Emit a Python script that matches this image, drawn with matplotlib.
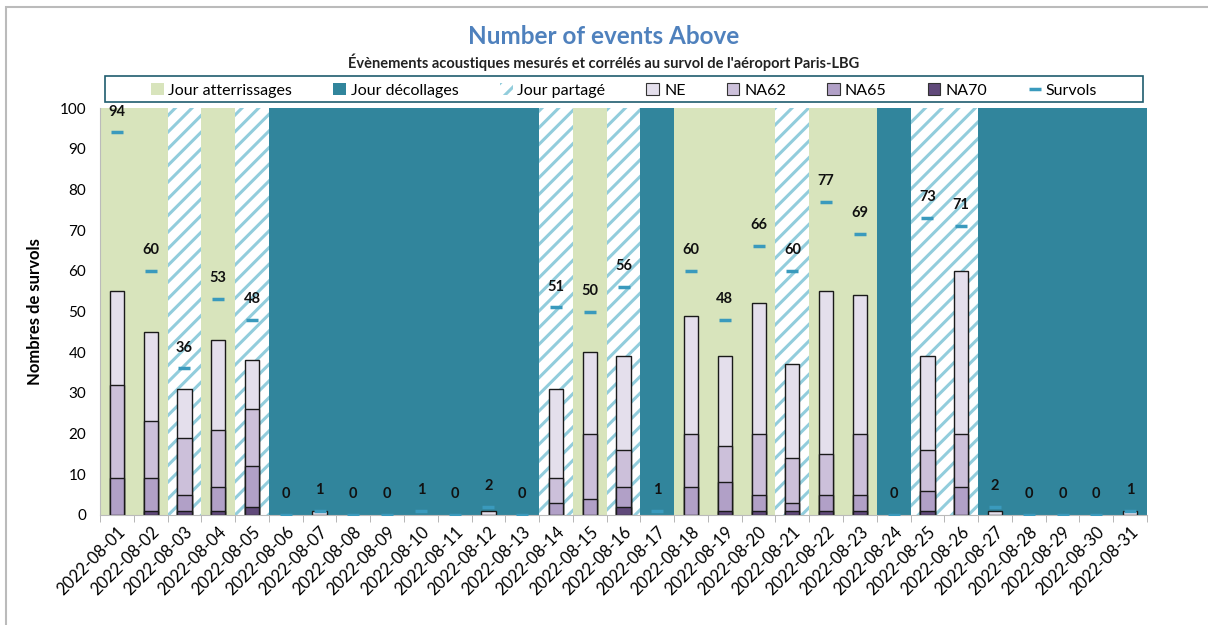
import numpy as np
import matplotlib
matplotlib.use("Agg")
import matplotlib.pyplot as plt
from matplotlib.patches import Patch, Rectangle
from matplotlib.lines import Line2D

plt.rcParams['font.family'] = ['Lato', 'DejaVu Sans']
plt.rcParams['hatch.linewidth'] = 2.2

# Data
dates = ['2022-08-%02d' % d for d in range(1, 32)]
# A = atterrissages, D = decollages, P = partage
day_type = ['A', 'A', 'P', 'A', 'P', 'D', 'D', 'D', 'D', 'D', 'D', 'D', 'D',
            'P', 'A', 'P', 'D', 'A', 'A', 'A', 'P', 'A', 'A', 'D', 'P', 'P',
            'D', 'D', 'D', 'D', 'D']
survols = [94, 60, 36, 53, 48, 0, 1, 0, 0, 1, 0, 2, 0,
           51, 50, 56, 1, 60, 48, 66, 60, 77, 69, 0, 73, 71,
           2, 0, 0, 0, 1]
ne = [55, 45, 31, 43, 38, 0, 1, 0, 0, 0, 0, 1, 0,
      31, 40, 39, 0, 49, 39, 52, 37, 55, 54, 0, 39, 60,
      1, 0, 0, 0, 1]
na62 = [32, 23, 19, 21, 26, 0, 0, 0, 0, 0, 0, 0, 0,
        9, 20, 16, 0, 20, 17, 20, 14, 15, 20, 0, 16, 20,
        0, 0, 0, 0, 0]
na65 = [9, 9, 5, 7, 12, 0, 0, 0, 0, 0, 0, 0, 0,
        3, 4, 7, 0, 7, 8, 5, 3, 5, 5, 0, 6, 7,
        0, 0, 0, 0, 0]
na70 = [0, 1, 1, 1, 2, 0, 0, 0, 0, 0, 0, 0, 0,
        0, 0, 2, 0, 0, 1, 1, 1, 1, 1, 0, 1, 0,
        0, 0, 0, 0, 0]

GREEN = '#D8E4BC'
TEAL = '#31859C'
HATCH = '#92CDDC'
C_NE = '#E4DFEC'
C_62 = '#CCC0DA'
C_65 = '#B1A0C7'
C_70 = '#60497A'
C_SURV = '#3A9ABD'

fig = plt.figure(figsize=(12.08, 6.25), dpi=100)
ax = fig.add_axes([0.0828, 0.176, 0.8667, 0.6512])

x = np.arange(len(dates))

# background day types
for t, kw in [('A', dict(color=GREEN)),
              ('D', dict(color=TEAL)),
              ('P', dict(facecolor='white', edgecolor=HATCH, hatch='//', linewidth=0))]:
    idx = [i for i in x if day_type[i] == t]
    ax.bar(idx, [100] * len(idx), width=1.0, zorder=0, **kw)

# noise events (nested counts drawn on top of each other)
for vals, col in [(ne, C_NE), (na62, C_62), (na65, C_65), (na70, C_70)]:
    idx = [i for i in x if vals[i] > 0]
    ax.bar(idx, [vals[i] for i in idx], width=0.42, color=col,
           edgecolor='#1a1a1a', linewidth=1.0, zorder=2)

# survols markers + labels
ax.plot(x, survols, linestyle='none', marker='_', markersize=9,
        markeredgewidth=2.5, color=C_SURV, zorder=3)
for i, v in enumerate(survols):
    ax.annotate(str(v), (i, v), xytext=(0, 10), textcoords='offset points',
                ha='center', va='bottom', fontsize=10.5, fontweight='bold',
                color='#111111', zorder=4)

ax.set_xlim(-0.5, len(dates) - 0.5)
ax.set_ylim(0, 100)
ax.set_yticks(range(0, 101, 10))
ax.tick_params(axis='y', length=0, labelsize=11, pad=10)
ax.set_xticks(x)
ax.set_xticklabels(dates, rotation=45, ha='right', rotation_mode='anchor', fontsize=12)
ax.tick_params(axis='x', which='major', length=0, pad=6)
ax.set_xticks(np.arange(-0.5, len(dates), 1.0), minor=True)
ax.tick_params(axis='x', which='minor', length=5, color='#aaaaaa', direction='out')
for s in ['top', 'right']:
    ax.spines[s].set_visible(False)
for s in ['left', 'bottom']:
    ax.spines[s].set_color('#bbbbbb')
ax.set_ylabel('Nombres de survols', fontsize=12, fontweight='bold', labelpad=12)

fig.text(0.5, 0.942, 'Number of events Above', ha='center', va='center',
         fontsize=17.5, fontweight='bold', color='#4F81BD')
fig.text(0.5, 0.9, "Évènements acoustiques mesurés et corrélés au survol de l'aéroport Paris-LBG",
         ha='center', va='center', fontsize=10.5, fontweight='bold', color='#222222')

handles = [
    Patch(facecolor=GREEN, edgecolor='none', label='Jour atterrissages'),
    Patch(facecolor=TEAL, edgecolor='none', label='Jour décollages'),
    Patch(facecolor='white', edgecolor=HATCH, hatch='//', linewidth=0, label='Jour partagé'),
    Patch(facecolor=C_NE, edgecolor='#333333', linewidth=0.8, label='NE'),
    Patch(facecolor=C_62, edgecolor='#333333', linewidth=0.8, label='NA62'),
    Patch(facecolor=C_65, edgecolor='#333333', linewidth=0.8, label='NA65'),
    Patch(facecolor=C_70, edgecolor='#333333', linewidth=0.8, label='NA70'),
    Line2D([], [], linestyle='none', marker='_', markersize=9, markeredgewidth=2.5,
           color=C_SURV, label='Survols'),
]
leg = fig.legend(handles=handles, ncol=8, loc='lower left',
                 bbox_to_anchor=(0.1215, 0.837, 0.79, 0.041), mode='expand',
                 fontsize=11.5, frameon=False, handlelength=0.8,
                 handleheight=0.8, handletextpad=0.3, borderaxespad=0, borderpad=0.25)

# legend frame
fig.patches.append(Rectangle((0.087, 0.837), 0.859, 0.041, transform=fig.transFigure,
                             fill=False, edgecolor='#1F5C6E', linewidth=1.2))
# outer chart frame
fig.patches.append(Rectangle((0.005, -0.01), 1.1, 0.999, transform=fig.transFigure,
                             fill=False, edgecolor='#bbbbbb', linewidth=1.5))

fig.savefig('out.png', dpi=100)
